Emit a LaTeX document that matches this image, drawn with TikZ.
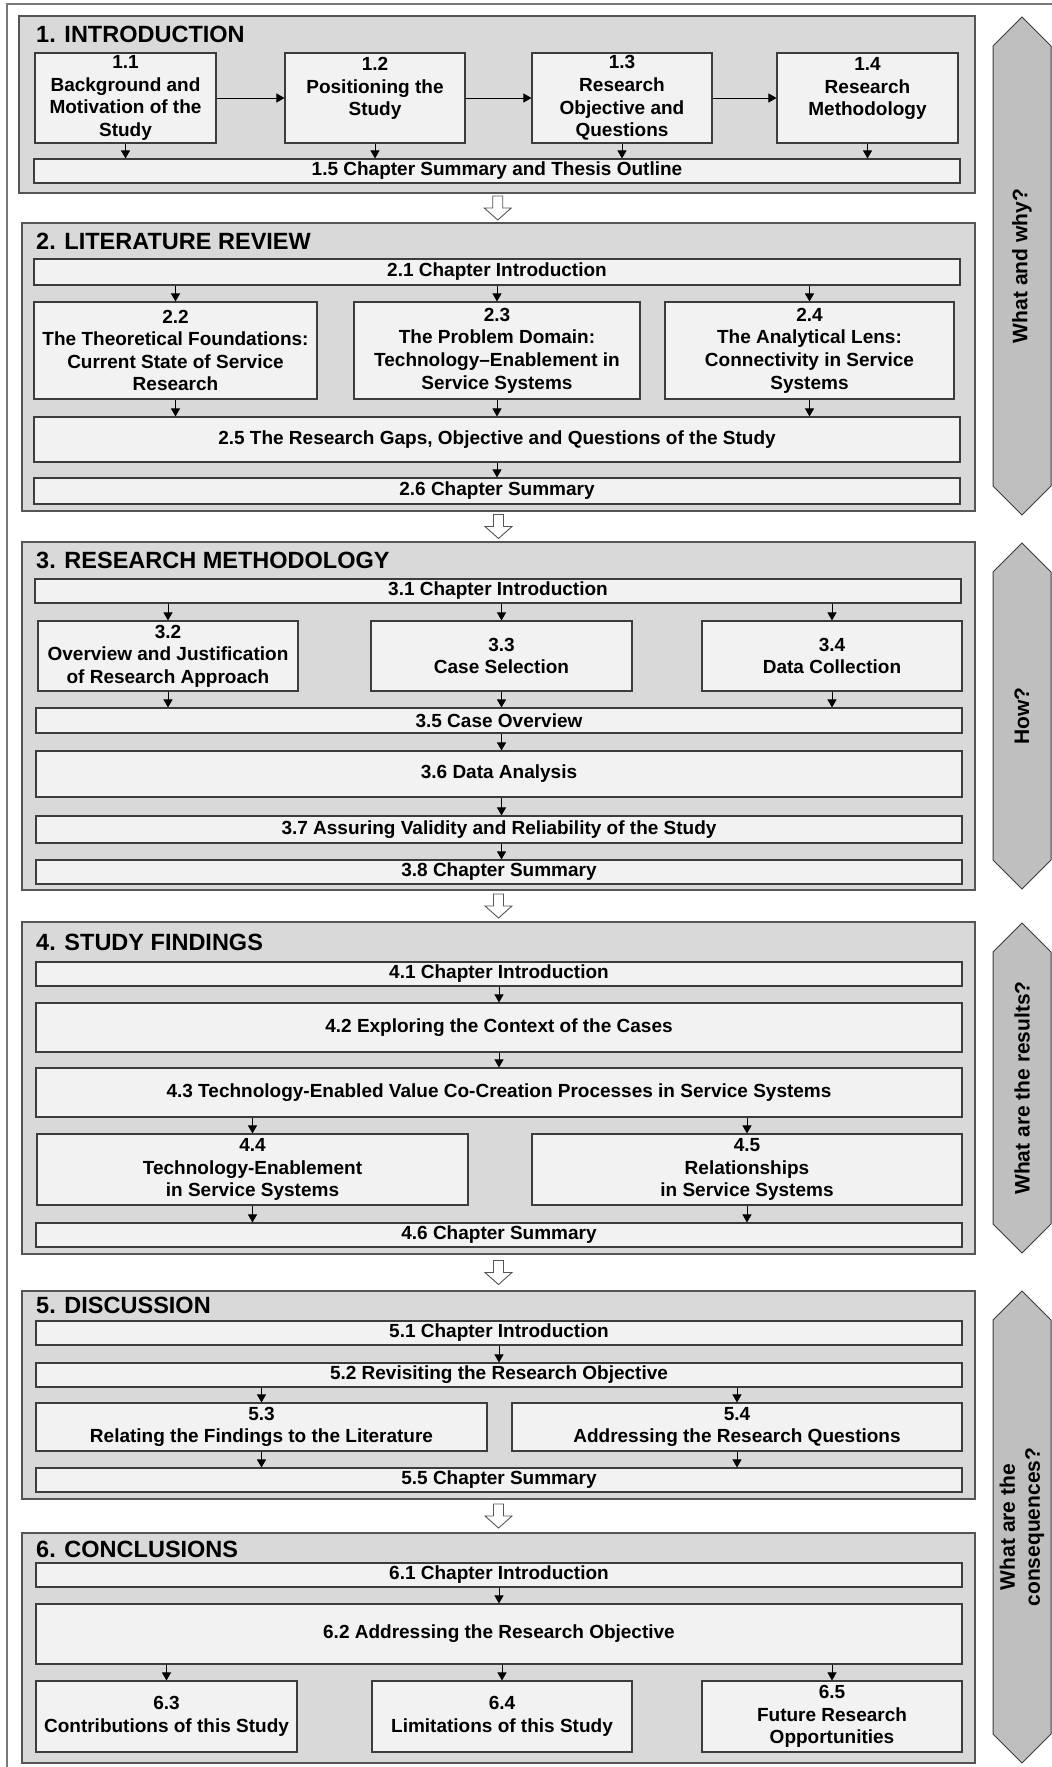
\documentclass[tikz,border=0pt]{standalone}
\usepackage{fontspec}
\setmainfont{Liberation Sans}
\usetikzlibrary{arrows.meta,calc}

\definecolor{chapfill}{RGB}{217,217,217}
\definecolor{boxfill}{RGB}{242,242,242}
\definecolor{sidefill}{RGB}{191,191,191}
\definecolor{edgegray}{RGB}{60,60,60}
\definecolor{chapedge}{RGB}{85,85,85}
\definecolor{framegray}{RGB}{120,120,120}

\newcommand\boxtextfont{\fontsize{19}{22.6}\selectfont\bfseries}
\newcommand\chaptitlefont{\fontsize{23.5}{28}\selectfont\bfseries}
\newcommand\bandfont{\fontsize{21}{25}\selectfont\bfseries}

\tikzset{
  ibox/.style={draw=edgegray, line width=1.1pt, fill=boxfill, inner sep=0pt,
    align=center, font=\boxtextfont},
  chapframe/.style={draw=chapedge, line width=1.4pt, fill=chapfill, inner sep=0pt},
  chaptitle/.style={anchor=base west, inner sep=0pt, font=\chaptitlefont},
  flow/.style={line width=0.9pt, -{Triangle[length=8pt,width=9pt]}},
  sideband/.style={draw=edgegray, line width=1pt, fill=sidefill},
  sidelabel/.style={rotate=90, align=center, font=\bandfont, inner sep=0pt},
  hollow/.style={draw=chapedge, line width=0.9pt, fill=white},
  downflow/.pic={\draw[hollow] (-5,12) -- (5,12) -- (5,0) -- (13.5,0) -- (0,-12)
    -- (-13.5,0) -- (-5,0) -- cycle;}
}

% box from its corner coordinates (x1,y1)-(x2,y2), y measured downwards
\newcommand\mkbox[6]{%
  \node[ibox, minimum width={#4-#2}, minimum height={#5-#3}]
    (#1) at ({(#2+#4)/2},{-(#3+#5)/2}) {#6};}
% chapter frame with its heading, last argument is the heading baseline
\newcommand\mkchap[7]{%
  \node[chapframe, minimum width={#4-#2}, minimum height={#5-#3}]
    (#1) at ({(#2+#4)/2},{-(#3+#5)/2}) {};
  \node[chaptitle] (#1title) at (36,{-#7}) {#6};}
% pointed side band with its rotated label
\newcommand\mkband[4]{%
  \draw[sideband] (1022,{-#2}) -- (1051,{-(#2+29)}) -- (1051,{-(#3-29)})
    -- (1022,{-#3}) -- (993,{-(#3-29)}) -- (993,{-(#2+29)}) -- cycle;
  \node[sidelabel] (#1) at (1022,{-(#2+#3)/2}) {#4};}

\begin{document}
\begin{tikzpicture}[x=1pt,y=1pt]
\useasboundingbox (0,0) rectangle (1052,-1767);
\fill[white] (0,0) rectangle (1052,-1767);
\draw[framegray, line width=1.5pt] (1052,-4) -- (7,-4) -- (7,-1767);

% ---------- Chapter 1 ----------
\mkchap{ch1}{19}{16}{975}{193}{1. INTRODUCTION}{42}
\mkbox{s11}{35}{53}{216}{143}{1.1\\Background and\\Motivation of the\\Study}
\mkbox{s12}{285}{53}{465}{143}{1.2\\Positioning the\\Study\\~}
\mkbox{s13}{532}{53}{712}{143}{1.3\\Research\\Objective and\\Questions}
\mkbox{s14}{777}{53}{958}{143}{1.4\\Research\\Methodology\\~}
\mkbox{s15}{34}{159}{960}{183}{1.5 Chapter Summary and Thesis Outline}
\draw[flow] (s11) -- (s12);
\draw[flow] (s12) -- (s13);
\draw[flow] (s13) -- (s14);
\foreach \b in {s11,s12,s13,s14}
  \draw[flow] (\b.south) -- (\b.south |- s15.north);

% ---------- Chapter 2 ----------
\mkchap{ch2}{22}{223}{975}{511}{2. LITERATURE REVIEW}{249}
\mkbox{s21}{34}{259}{960}{285}{2.1 Chapter Introduction}
\mkbox{s22}{34}{302}{317}{399}{2.2\\The Theoretical Foundations:\\Current State of Service\\Research}
\mkbox{s23}{354}{302}{640}{399}{2.3\\The Problem Domain:\\Technology--Enablement in\\Service Systems}
\mkbox{s24}{665}{302}{954}{399}{2.4\\The Analytical Lens:\\Connectivity in Service\\Systems}
\mkbox{s25}{34}{417}{960}{462}{2.5 The Research Gaps, Objective and Questions of the Study}
\mkbox{s26}{34}{478}{960}{504}{2.6 Chapter Summary}
\foreach \b in {s22,s23,s24} {
  \draw[flow] (s21.south -| \b.north) -- (\b.north);
  \draw[flow] (\b.south) -- (\b.south |- s25.north);
}
\draw[flow] (s25.south -| s23.south) -- (s26.north -| s23.south);

% ---------- Chapter 3 ----------
\mkchap{ch3}{22}{542}{975}{890}{3. RESEARCH METHODOLOGY}{568}
\mkbox{s31}{35}{579}{961}{603}{3.1 Chapter Introduction}
\mkbox{s32}{38}{621}{298}{691}{3.2\\Overview and Justification\\of Research Approach}
\mkbox{s33}{371}{621}{632}{691}{3.3\\Case Selection}
\mkbox{s34}{702}{621}{962}{691}{3.4\\Data Collection}
\mkbox{s35}{36}{708}{962}{733}{3.5 Case Overview}
\mkbox{s36}{36}{751}{962}{797}{3.6 Data Analysis}
\mkbox{s37}{36}{816}{962}{843}{3.7 Assuring Validity and Reliability of the Study}
\mkbox{s38}{36}{860}{962}{884}{3.8 Chapter Summary}
\foreach \b in {s32,s33,s34} {
  \draw[flow] (s31.south -| \b.north) -- (\b.north);
  \draw[flow] (\b.south) -- (\b.south |- s35.north);
}
\draw[flow] (s35.south -| s33.south) -- (s36.north -| s33.south);
\draw[flow] (s36.south -| s33.south) -- (s37.north -| s33.south);
\draw[flow] (s37.south -| s33.south) -- (s38.north -| s33.south);

% ---------- Chapter 4 ----------
\mkchap{ch4}{22}{922}{975}{1254}{4. STUDY FINDINGS}{950}
\mkbox{s41}{36}{962}{962}{986}{4.1 Chapter Introduction}
\mkbox{s42}{36}{1003}{962}{1052}{4.2 Exploring the Context of the Cases}
\mkbox{s43}{36}{1068}{962}{1117}{4.3 Technology-Enabled Value Co-Creation Processes in Service Systems}
\mkbox{s44}{37}{1134}{468}{1205}{4.4\\Technology-Enablement\\in Service Systems}
\mkbox{s45}{532}{1134}{962}{1205}{4.5\\Relationships\\in Service Systems}
\mkbox{s46}{36}{1223}{962}{1247}{4.6 Chapter Summary}
\draw[flow] (s41) -- (s42);
\draw[flow] (s42) -- (s43);
\foreach \b in {s44,s45} {
  \draw[flow] (s43.south -| \b.north) -- (\b.north);
  \draw[flow] (\b.south) -- (\b.south |- s46.north);
}

% ---------- Chapter 5 ----------
\mkchap{ch5}{22}{1291}{975}{1499}{5. DISCUSSION}{1313}
\mkbox{s51}{36}{1321}{962}{1345}{5.1 Chapter Introduction}
\mkbox{s52}{36}{1363}{962}{1387}{5.2 Revisiting the Research Objective}
\mkbox{s53}{36}{1403}{487}{1451}{5.3\\Relating the Findings to the Literature}
\mkbox{s54}{512}{1403}{962}{1451}{5.4\\Addressing the Research Questions}
\mkbox{s55}{36}{1468}{962}{1492}{5.5 Chapter Summary}
\draw[flow] (s51) -- (s52);
\foreach \b in {s53,s54} {
  \draw[flow] (s52.south -| \b.north) -- (\b.north);
  \draw[flow] (\b.south) -- (\b.south |- s55.north);
}

% ---------- Chapter 6 ----------
\mkchap{ch6}{22}{1533}{975}{1763}{6. CONCLUSIONS}{1557}
\mkbox{s61}{36}{1563}{962}{1587}{6.1 Chapter Introduction}
\mkbox{s62}{36}{1604}{962}{1664}{6.2 Addressing the Research Objective}
\mkbox{s63}{36}{1681}{297}{1752}{6.3\\Contributions of this Study}
\mkbox{s64}{372}{1681}{632}{1752}{6.4\\Limitations of this Study}
\mkbox{s65}{702}{1681}{962}{1752}{6.5\\Future Research\\Opportunities}
\draw[flow] (s61) -- (s62);
\foreach \b in {s63,s64,s65}
  \draw[flow] (s62.south -| \b.north) -- (\b.north);

% ---------- links between chapters ----------
\pic at ($(ch1.south)!0.5!(ch2.north)$) {downflow};
\pic at ($(ch2.south)!0.5!(ch3.north)$) {downflow};
\pic at ($(ch3.south)!0.5!(ch4.north)$) {downflow};
\pic at ($(ch4.south)!0.5!(ch5.north)$) {downflow};
\pic at ($(ch5.south)!0.5!(ch6.north)$) {downflow};

% ---------- side bands ----------
\mkband{q1}{17}{515}{What and why?}
\mkband{q2}{543}{889}{How?}
\mkband{q3}{923}{1253}{What are the results?}
\mkband{q4}{1291}{1763}{What are the\\consequences?}
\end{tikzpicture}
\end{document}
